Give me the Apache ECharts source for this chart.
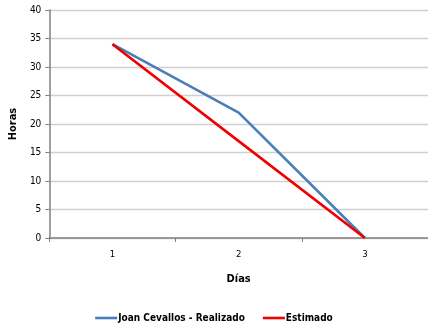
<!DOCTYPE html>
<html><head><meta charset="utf-8">
<script src="https://cdn.jsdelivr.net/npm/echarts@6/dist/echarts.min.js"></script>
<style>html,body{margin:0;padding:0;background:#fff}#c{width:428px;height:330px}</style>
</head><body><div id="c"></div>
<script>
const categories = ['1', '2', '3'];
const realizado = [34, 22, 0];
const estimado = [34, 17, 0];
const yTicks = [0, 5, 10, 15, 20, 25, 30, 35, 40];
const seriesNames = ['Joan Cevallos - Realizado', 'Estimado'];

const font = '"DejaVu Sans Condensed", "Liberation Sans", Arial, sans-serif';
const chart = echarts.init(document.getElementById('c'), null, {renderer: 'canvas'});
chart.setOption({
  animation: false,
  textStyle: {fontFamily: font},
  grid: {left: 45, right: 0, top: 10, bottom: 92, containLabel: false},
  legend: {
    bottom: 2, left: 'center', itemWidth: 22, itemHeight: 10, itemGap: 18,
    data: seriesNames.map(n => ({name: n, icon: 'path://M0,4 L22,4 L22,6.6 L0,6.6 Z'})),
    textStyle: {fontFamily: font, fontWeight: 'bold', fontSize: 10, color: '#000', padding: [0,0,0,-4]}
  },
  xAxis: {
    type: 'category', data: categories, boundaryGap: true,
    name: 'Días', nameLocation: 'middle', nameGap: 36,
    nameTextStyle: {fontFamily: font, fontWeight: 'bold', fontSize: 11, color: '#000'},
    axisLine: {lineStyle: {color: '#808080', width: 1.5}},
    axisTick: {show: true, length: 4, lineStyle: {color: '#808080'}},
    axisLabel: {fontSize: 9.5, color: '#000', margin: 12}
  },
  yAxis: {
    type: 'value', min: yTicks[0], max: yTicks[yTicks.length-1], interval: 5,
    name: 'Horas', nameLocation: 'middle', nameGap: 24, nameRotate: 90,
    nameTextStyle: {fontFamily: font, fontWeight: 'bold', fontSize: 11, color: '#000'},
    axisLine: {show: true, lineStyle: {color: '#808080', width: 1.5}},
    axisTick: {show: true, length: 4, lineStyle: {color: '#808080'}},
    axisLabel: {fontSize: 10, color: '#000', margin: 8},
    splitLine: {lineStyle: {color: '#d0d0d0', width: 1.3}}
  },
  series: [
    {name: seriesNames[0], type: 'line', data: realizado, symbol: 'none',
     lineStyle: {color: '#4a7ebb', width: 2.6}, itemStyle: {color: '#4a7ebb'}},
    {name: seriesNames[1], type: 'line', data: estimado, symbol: 'none',
     lineStyle: {color: '#f00000', width: 2.6}, itemStyle: {color: '#f00000'}}
  ]
});
</script></body></html>
